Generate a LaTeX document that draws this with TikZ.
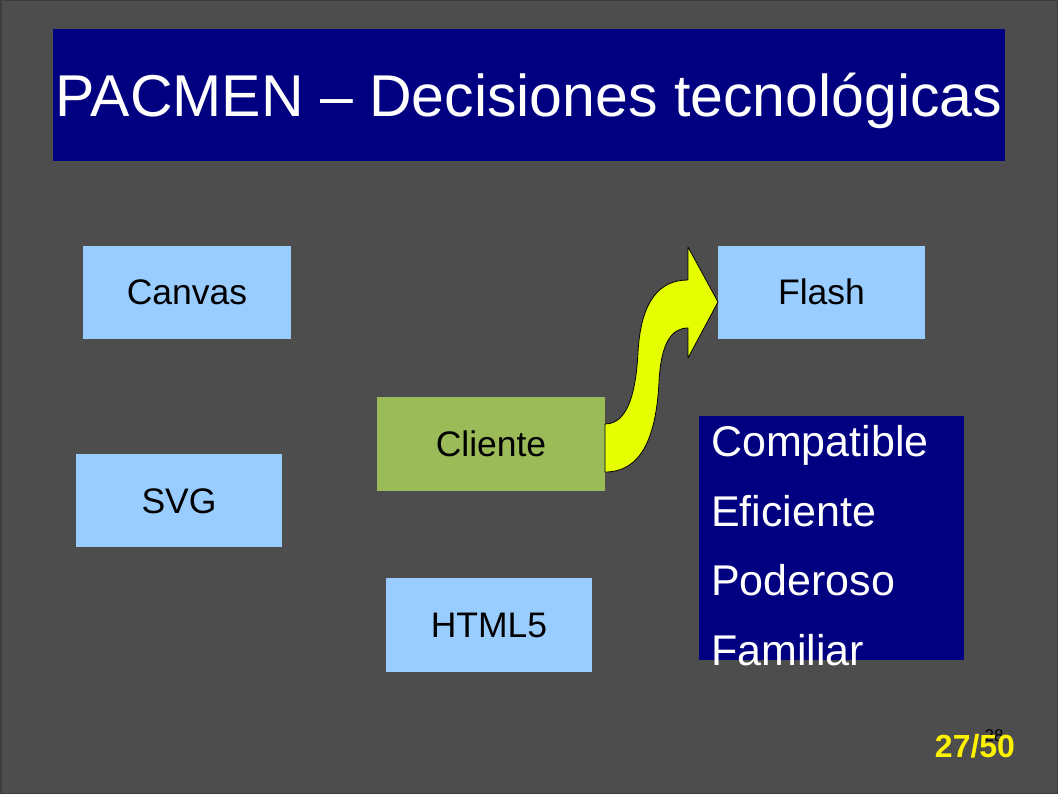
\documentclass[tikz,border=0pt]{standalone}
\usepackage{fontspec}
\setmainfont{Liberation Sans}
\definecolor{bggray}{RGB}{77,77,77}
\definecolor{bordergray}{RGB}{60,60,60}
\definecolor{navy}{RGB}{0,0,128}
\definecolor{lblue}{RGB}{153,204,255}
\definecolor{lgreen}{RGB}{155,187,89}
\definecolor{arrowyellow}{RGB}{230,255,0}
\begin{document}
\begin{tikzpicture}[x=1pt,y=-1pt,
  techbox/.style={rectangle, inner sep=0pt, font=\fontsize{35.5}{42}\selectfont,
    text=black, text height=25pt, text depth=0pt, minimum height=93pt},
  lbluebox/.style={techbox, fill=lblue},
  greenbox/.style={techbox, fill=lgreen},
  listtext/.style={anchor=base west, inner sep=0pt, text=white, font=\fontsize{43}{50}\selectfont}]
\fill[bggray, draw=bordergray, line width=1.5pt] (0.75,0.75) rectangle (1057.25,793.25);
\useasboundingbox (0,0) rectangle (1058,794);
% title
\fill[navy] (53,29) rectangle (1005,161);
\node[anchor=base, inner sep=0pt, text=white, font=\fontsize{59}{70}\selectfont] (title) at (529,117) {PACMEN – Decisiones tecnológicas};
% boxes
\node[lbluebox, minimum width=208pt] (canvas) at (187,292.5) {Canvas};
\node[lbluebox, minimum width=207pt] (flash) at (821.5,292.5) {Flash};
\node[lbluebox, minimum width=206pt] (svg) at (179,500.5) {SVG};
\node[greenbox, minimum width=228pt, minimum height=94pt] (cliente) at (491,444) {Cliente};
\node[lbluebox, minimum width=206pt, minimum height=94pt] (html) at (489,625) {HTML5};
% list box
\fill[navy] (699,416) rectangle (964,660);
\node[listtext] (l1) at (711,456) {Compatible};
\node[listtext] (l2) at (711,526) {Eficiente};
\node[listtext] (l3) at (711,595) {Poderoso};
\node[listtext] (l4) at (711,665) {Familiar};
% curved arrow
\filldraw[fill=arrowyellow, draw=black, line width=0.8pt, line join=round]
  (605,424) .. controls (628,424) and (636,392) .. (638,352)
  .. controls (641,300) and (660,280) .. (688,280)
  -- (688,247) -- (718,302) -- (688,358) -- (688,328)
  .. controls (672,328) and (661,342) .. (659,382)
  .. controls (656,440) and (640,472) .. (605,472) -- cycle;
% page numbers
\node[anchor=base, inner sep=0pt, text=black, font=\fontsize{17}{20}\selectfont] (pn) at (994,741) {28};
\node[anchor=base, inner sep=0pt, text=yellow, font=\fontsize{32}{38}\selectfont\bfseries] (pg) at (975,757) {27/50};
\end{tikzpicture}
\end{document}
